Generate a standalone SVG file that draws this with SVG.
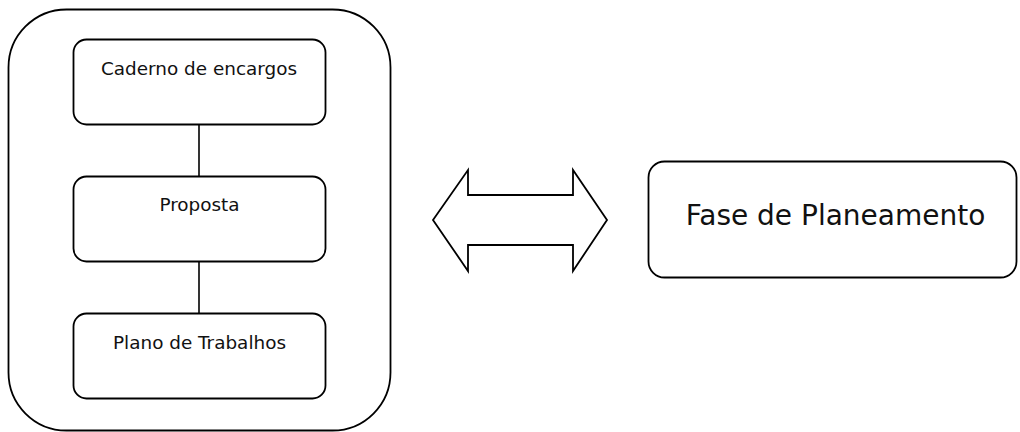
<svg xmlns="http://www.w3.org/2000/svg" width="1020" height="432" viewBox="0 0 1020 432">
  <style>
    .box { fill: #ffffff; stroke: #000000; stroke-width: 1.8; }
    .link { fill: none; stroke: #000000; stroke-width: 1.6; }
    .lbl { font-family: "DejaVu Sans", "Liberation Sans", sans-serif; font-size: 18.4px; fill: #111111; text-anchor: middle; }
    .lbl-big { font-family: "DejaVu Sans", "Liberation Sans", sans-serif; font-size: 28px; fill: #111111; text-anchor: middle; }
  </style>
  <rect width="1020" height="432" fill="#ffffff"/>

  <!-- container for the document stages -->
  <g id="container">
    <rect class="box" x="8.5" y="9.5" width="382" height="421" rx="58" ry="58"/>
  </g>

  <!-- vertical links between the stacked documents -->
  <g id="connectors">
    <line class="link" x1="199" y1="124" x2="199" y2="176"/>
    <line class="link" x1="199" y1="261" x2="199" y2="313"/>
  </g>

  <g id="node-caderno">
    <rect class="box" x="73.5" y="39.5" width="252" height="85" rx="13" ry="13"/>
    <text class="lbl" x="199" y="74.5">Caderno de encargos</text>
  </g>

  <g id="node-proposta">
    <rect class="box" x="73.5" y="176.5" width="252" height="85" rx="13" ry="13"/>
    <text class="lbl" x="199.5" y="211">Proposta</text>
  </g>

  <g id="node-plano">
    <rect class="box" x="73.5" y="313.5" width="252" height="85" rx="13" ry="13"/>
    <text class="lbl" x="199.5" y="348.5">Plano de Trabalhos</text>
  </g>

  <!-- two-way block arrow -->
  <g id="node-arrow">
    <polygon class="box" points="433,220 468,170 468,195 573,195 573,170 607,220 573,271 573,245 468,245 468,271"/>
  </g>

  <g id="node-fase">
    <rect class="box" x="648.5" y="161.5" width="368" height="116" rx="16" ry="16"/>
    <text class="lbl-big" x="835.5" y="225">Fase de Planeamento</text>
  </g>
</svg>
